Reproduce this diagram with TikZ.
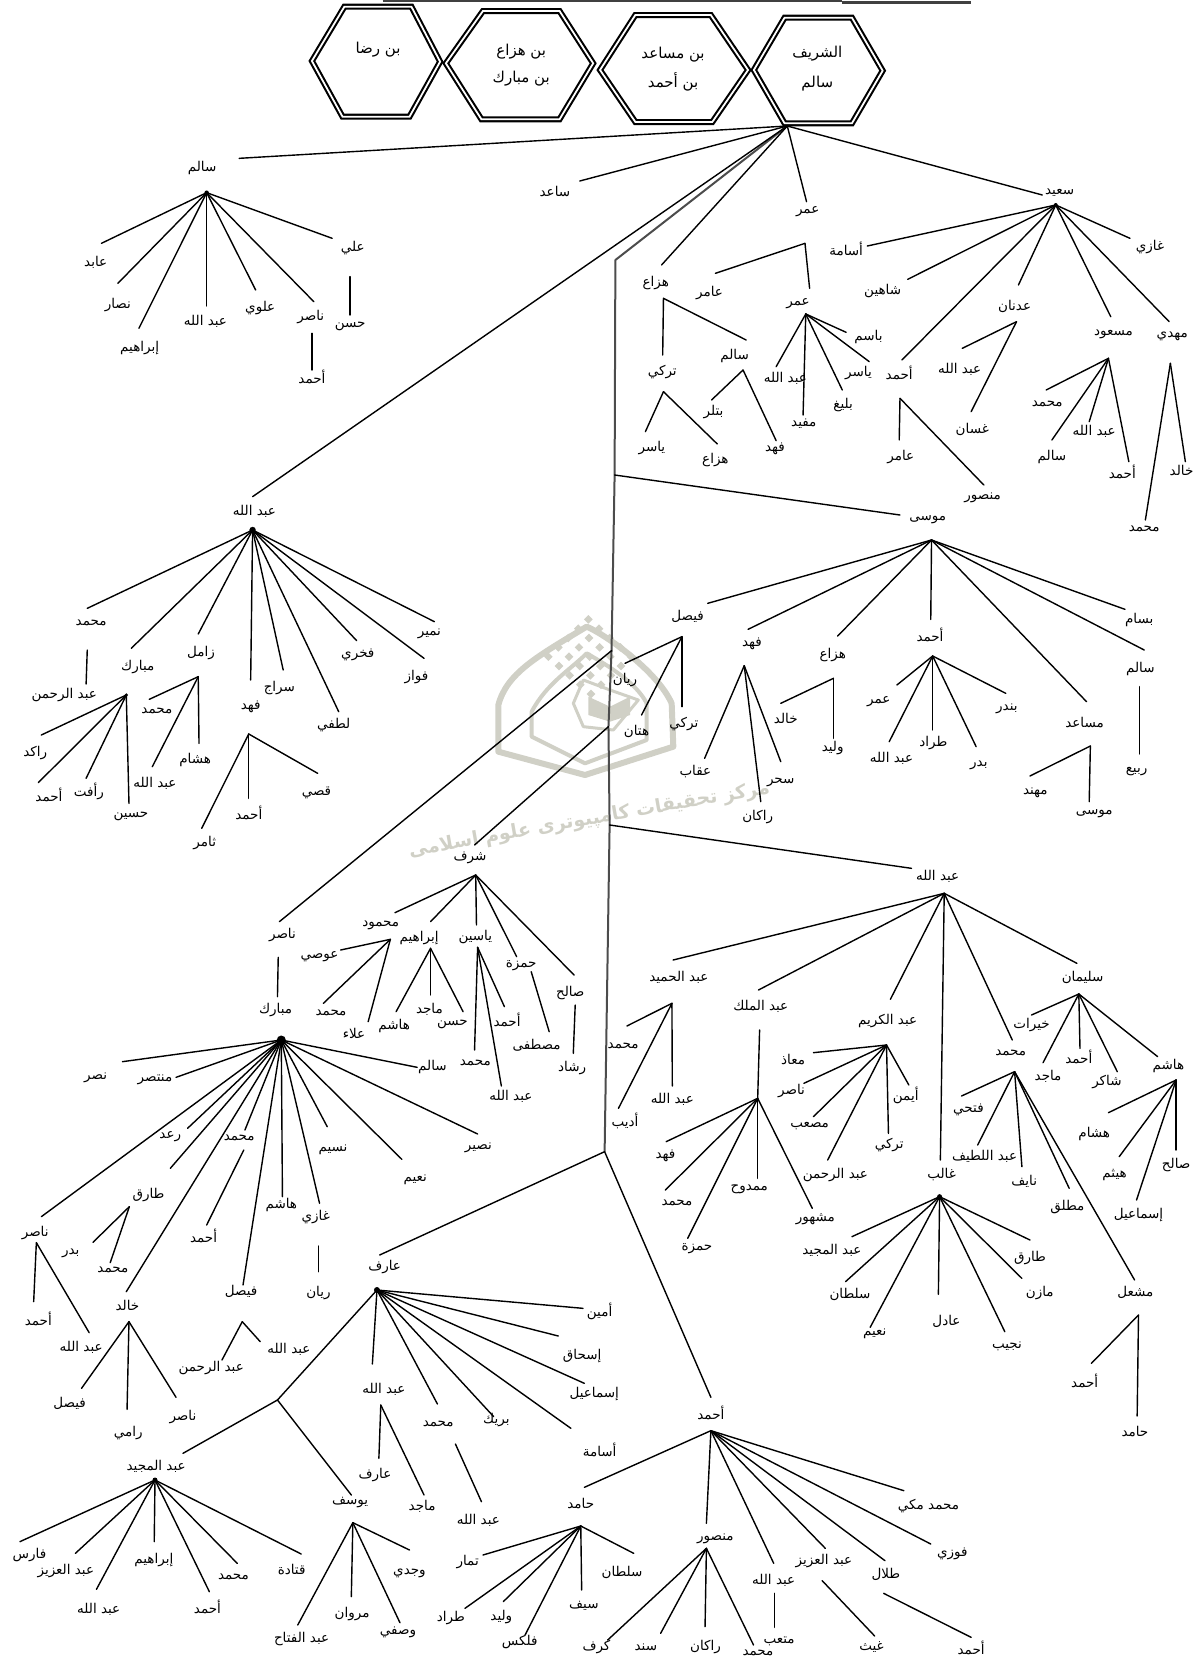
\documentclass[tikz,border=0pt]{standalone}
\usepackage{fontspec}
\TeXXeTstate=1
\newfontfamily\arfont[Script=Arabic]{DejaVu Sans}
\definecolor{wm}{RGB}{208,208,198}
\tikzset{
 lbl/.style={font=\arfont\fontsize{13.5}{14}\selectfont,inner sep=0pt,text=black},
 hexlbl/.style={font=\arfont\fontsize{15}{16}\selectfont,inner sep=0pt,text=black},
 cn/.style={draw=black,line width=1.4pt,line cap=round,line join=round},
 trunkline/.style={draw=black!70,line width=2pt,line join=round},
 hexa/.style={draw=black,line width=2.1pt,double=white,double distance=1.8pt,line join=miter},
 barline/.style={draw=black!75,line width=1.8pt},
 zone/.style n args={3}{x=#3pt,y=-0.33333pt,shift={(#1pt,-#2pt)}},
 wmline/.style={draw=wm,line width=5pt,line join=round},
}
\newcommand\Lab[4]{\node[lbl] (#1) at (#2,#3) {\beginR #4\endR};}
\newcommand\HexLab[4]{\node[hexlbl] (#1) at (#2,#3) {\beginR #4\endR};}
\newcommand\Pt[3]{\coordinate (#1) at (#2,#3);}
\newcommand\Blob[2]{\fill[black] (#1) circle (#2pt);}
\newcommand\Kid[7]{\Lab{#1}{#2}{#3}{#4}\coordinate (#1e) at (#6,#7);\draw[cn] (#5) -- (#1e);}
\newcommand\Stem[5]{\coordinate (#1a) at (#2,#3);\coordinate (#1b) at (#4,#5);\draw[cn] (#1a) -- (#1b);}
\begin{document}
\begin{tikzpicture}[x=1pt,y=1pt]
\useasboundingbox (0pt,-1660pt) rectangle (1200pt,0pt);
% watermark
\begin{scope}[zone={470}{590}{0.33333}]
 \draw[wmline,line width=6pt] (345,555) -- (85,485) -- (85,345) .. controls (110,250) and (200,200) .. (350,110) .. controls (400,130) and (560,240) .. (605,340) -- (610,470) -- cycle;
 \draw[wmline,line width=4pt] (345,520) -- (185,440) -- (185,365) .. controls (230,280) and (300,240) .. (350,190) .. controls (420,230) and (500,280) .. (530,340) -- (530,450) -- cycle;
 \draw[wmline,line width=3pt] (340,270) -- (420,300) -- (505,330) -- (430,420) -- (340,410) -- (310,340) -- cycle;
 \fill[wm] (355,320) -- (420,350) -- (480,320) -- (480,375) -- (420,395) -- (355,375) -- cycle;
 \foreach \i in {0,...,4}{\foreach \j in {0,...,4}{
   \fill[wm] ({355+\i*32-\j*30},{75+\i*28+\j*28}) -- ++(13,13) -- ++(-13,13) -- ++(-13,-13) -- cycle;}}
 \node[font=\arfont\bfseries\fontsize{19}{21}\selectfont,text=wm,rotate=10,inner sep=0pt] (wmtext) at (358,690) {\beginR مركز تحقيقات كامپيوترى علوم اسلامى\endR};
\end{scope}
% top bar and hexagons
\begin{scope}[zone={0}{0}{0.3827}]
 \coordinate (barA) at (1000,3);
 \draw[hexa] (815,183) -- (900,20) -- (1075,20) -- (1150,185) -- (1070,350) -- (895,350) -- cycle;
 \draw[hexa] (1165,190) -- (1262,33) -- (1462,33) -- (1550,190) -- (1462,358) -- (1258,358) -- cycle;
 \HexLab{h4a}{988}{150}{\beginR بن رضا\endR}
 \HexLab{h3a}{1362}{155}{\beginR بن هزاع\endR}
 \HexLab{h3b}{1362}{235}{\beginR بن مبارك\endR}
\end{scope}
\begin{scope}[zone={600}{0}{0.3846}]
 \coordinate (barM) at (630,3);
 \coordinate (barN) at (630,8);
 \coordinate (barB) at (965,8);
 \draw[barline] (barA) -- (barM);
 \draw[barline,line width=2.6pt] (barN) -- (barB);
 \draw[hexa] (0,210) -- (92,45) -- (288,45) -- (385,210) -- (292,366) -- (92,366) -- cycle;
 \draw[hexa] (400,210) -- (480,53) -- (655,53) -- (735,212) -- (655,370) -- (480,370) -- cycle;
 \HexLab{h2a}{190}{165}{\beginR بن مساعد\endR}
 \HexLab{h2b}{190}{245}{\beginR بن أحمد\endR}
 \HexLab{h1a}{565}{160}{الشريف}
 \HexLab{h1b}{565}{250}{سالم}
 \Pt{R}{487}{378}
 \Pt{T1}{40}{780}
 \Pt{MusaJ}{38}{1425}
\end{scope}
\begin{scope}[zone={600}{880}{0.3846}]
 \Pt{T2}{12}{815}
\end{scope}
\begin{scope}[zone={600}{500}{0.3846}]
 \Pt{NasirJ}{30}{452}
 \Pt{SharafJ}{22}{680}
 \Pt{AbdJ}{25}{975}
\end{scope}
\draw[trunkline] (R) -- (T1) -- (MusaJ) -- (NasirJ) -- (SharafJ) -- (AbdJ) -- (T2);
\begin{scope}[zone={500}{1240}{0.4487}]
 \Pt{HamidH}{180}{858}
\end{scope}
% region of the upper right
\begin{scope}[zone={600}{0}{0.3846}]
 \Kid{a1}{540}{635}{عمر}{R}{537}{605}
 \Kid{a2}{1195}{578}{سعيد}{R}{1150}{585}
 \Kid{a3}{145}{850}{هزاع}{R}{160}{795}
 \Pt{omarH}{533}{730}
 \Kid{b1}{285}{878}{عامر}{omarH}{300}{820}
 \Kid{b2}{515}{912}{عمر}{omarH}{545}{865}
 \Pt{omar2H}{535}{942}
 \Kid{c1}{482}{1135}{\beginR عبد الله\endR}{omar2H}{458}{1100}
 \Kid{c2}{530}{1270}{مفيد}{omar2H}{528}{1245}
 \Kid{c3}{632}{1215}{بليغ}{omar2H}{630}{1170}
 \Kid{c4}{672}{1118}{ياسر}{omar2H}{700}{1085}
 \Kid{c5}{698}{1010}{باسم}{omar2H}{640}{997}
 \Pt{hazH}{165}{895}
 \Kid{d1}{162}{1115}{تركي}{hazH}{163}{1065}
 \Kid{d2}{350}{1068}{سالم}{hazH}{380}{1020}
 \Pt{turkH}{165}{1175}
 \Kid{e1}{135}{1345}{ياسر}{turkH}{118}{1295}
 \Kid{e2}{300}{1380}{هزاع}{turkH}{305}{1332}
 \Pt{salH}{372}{1110}
 \Kid{e3}{295}{1235}{بتلر}{salH}{290}{1200}
 \Kid{e4}{455}{1348}{فهد}{salH}{458}{1322}
 \Pt{saidH}{1185}{615}
 \Blob{saidH}{2}
 \Kid{f1}{640}{748}{أسامة}{saidH}{695}{738}
 \Kid{f2}{735}{872}{شاهين}{saidH}{800}{838}
 \Kid{f3}{778}{1118}{أحمد}{saidH}{785}{1080}
 \Kid{f4}{1078}{918}{عدنان}{saidH}{1088}{855}
 \Kid{f5}{1335}{1003}{مسعود}{saidH}{1328}{950}
 \Kid{f6}{1488}{1010}{مهدي}{saidH}{1480}{965}
 \Kid{f7}{1430}{742}{غازي}{saidH}{1378}{715}
 \Pt{adnH}{1083}{965}
 \Kid{g1}{935}{1108}{\beginR عبد الله\endR}{adnH}{942}{1045}
 \Kid{g2}{968}{1288}{غسان}{adnH}{965}{1235}
 \Pt{ahmH}{780}{1195}
 \Kid{g3}{782}{1372}{عامر}{ahmH}{778}{1320}
 \Kid{g4}{995}{1495}{منصور}{ahmH}{998}{1455}
 \Pt{masH}{1322}{1075}
 \Kid{g5}{1163}{1212}{محمد}{masH}{1160}{1170}
 \Kid{g6}{1285}{1295}{\beginR عبد الله\endR}{masH}{1272}{1265}
 \Kid{g7}{1175}{1370}{سالم}{masH}{1175}{1320}
 \Kid{g8}{1358}{1415}{أحمد}{masH}{1375}{1385}
 \Pt{mahH}{1483}{1090}
 \Kid{g9}{1512}{1412}{خالد}{mahH}{1522}{1385}
\end{scope}
% upper left
\begin{scope}[zone={0}{0}{0.3827}]
 \Kid{s0}{528}{505}{سالم}{R}{625}{475}
 \Kid{s00}{1450}{575}{ساعد}{R}{1515}{543}
 \Pt{sH}{540}{578}
 \Blob{sH}{2.2}
 \Kid{s1}{250}{787}{عابد}{sH}{265}{730}
 \Kid{s2}{308}{915}{نصار}{sH}{308}{850}
 \Kid{s3}{365}{1043}{إبراهيم}{sH}{363}{985}
 \Kid{s4}{537}{965}{\beginR عبد الله\endR}{sH}{540}{918}
 \Kid{s5}{680}{925}{علوي}{sH}{668}{870}
 \Kid{s6}{812}{950}{ناصر}{sH}{820}{905}
 \Kid{s7}{922}{745}{علي}{sH}{868}{715}
 \Stem{st1}{915}{830}{915}{945}
 \Lab{s8}{915}{980}{حسن}
 \Stem{st2}{815}{1000}{815}{1110}
 \Lab{s9}{815}{1130}{أحمد}
\end{scope}
\begin{scope}[zone={0}{480}{0.3827}]
 \Kid{m0}{665}{95}{\beginR عبد الله\endR}{R}{660}{50}
 \Pt{mH}{660}{150}
 \Blob{mH}{3.2}
 \Kid{m1}{238}{430}{محمد}{mH}{228}{385}
 \Kid{m2}{360}{560}{مبارك}{mH}{343}{505}
 \Kid{m3}{525}{518}{زامل}{mH}{518}{462}
 \Kid{m4}{655}{680}{فهد}{mH}{655}{600}
 \Kid{m5}{730}{625}{سراج}{mH}{740}{570}
 \Kid{m6}{872}{735}{لطفي}{mH}{885}{695}
 \Kid{m7}{935}{525}{فخري}{mH}{932}{482}
 \Kid{m8}{1088}{590}{فواز}{mH}{1108}{535}
 \Kid{m9}{1122}{462}{نمير}{mH}{1135}{425}
 \Stem{st3}{228}{510}{225}{612}
 \Lab{n1}{168}{645}{\beginR عبد الرحمن\endR}
 \Pt{mbH}{330}{645}
 \Blob{mbH}{1.8}
 \Kid{n2}{92}{820}{راكد}{mbH}{108}{765}
 \Kid{n3}{128}{945}{أحمد}{mbH}{100}{908}
 \Kid{n4}{232}{935}{رأفت}{mbH}{225}{895}
 \Kid{n5}{342}{1010}{حسين}{mbH}{337}{970}
 \Pt{zmH}{518}{590}
 \Kid{n6}{410}{692}{محمد}{zmH}{390}{658}
 \Kid{n7}{405}{910}{\beginR عبد الله\endR}{zmH}{398}{860}
 \Kid{n8}{510}{840}{هشام}{zmH}{520}{790}
 \Pt{fhH}{650}{762}
 \Kid{n9}{535}{1090}{ثامر}{fhH}{527}{1045}
 \Kid{n10}{650}{1000}{أحمد}{fhH}{650}{955}
 \Kid{n11}{827}{940}{قصي}{fhH}{830}{880}
 \coordinate (shrfE) at (1240,1095);
\end{scope}
% middle right
\begin{scope}[zone={600}{500}{0.3846}]
 \Kid{g10}{1415}{88}{محمد}{mahH}{1418}{60}
 \Kid{k0}{852}{58}{موسى}{MusaJ}{780}{45}
 \Pt{kH}{862}{120}
 \Kid{k1}{228}{350}{فيصل}{kH}{280}{310}
 \Kid{k2}{395}{433}{فهد}{kH}{385}{388}
 \Kid{k3}{605}{465}{هزاع}{kH}{618}{408}
 \Kid{k4}{858}{405}{أحمد}{kH}{860}{358}
 \Kid{k5}{1260}{668}{مساعد}{kH}{1265}{605}
 \Kid{k6}{1405}{508}{سالم}{kH}{1415}{450}
 \Kid{k7}{1402}{360}{بسام}{kH}{1365}{328}
 \Pt{fsH}{213}{410}
 \Kid{l1}{65}{540}{ريان}{fsH}{65}{490}
 \Kid{l2}{95}{695}{هتان}{fsH}{108}{645}
 \Kid{l3}{218}{672}{تركي}{fsH}{213}{620}
 \Pt{fdH}{375}{497}
 \Kid{l4}{248}{815}{عقاب}{fdH}{272}{775}
 \Kid{l5}{410}{950}{راكان}{fdH}{418}{905}
 \Kid{l6}{470}{848}{سحر}{fdH}{470}{785}
 \Pt{hzH}{607}{535}
 \Kid{l7}{483}{655}{خالد}{hzH}{470}{610}
 \Kid{l8}{605}{745}{وليد}{hzH}{607}{715}
 \Pt{amH}{865}{468}
 \Kid{l9}{725}{605}{عمر}{amH}{772}{555}
 \Kid{l10}{758}{775}{\beginR عبد الله\endR}{amH}{752}{725}
 \Kid{l11}{867}{730}{طراد}{amH}{865}{690}
 \Kid{l12}{985}{795}{بدر}{amH}{978}{740}
 \Kid{l13}{1058}{628}{بندر}{amH}{1055}{580}
 \Pt{msH}{1275}{738}
 \Kid{l14}{1132}{878}{مهند}{msH}{1118}{828}
 \Kid{l15}{1285}{942}{موسى}{msH}{1272}{905}
 \Stem{st4}{1402}{560}{1402}{762}
 \Lab{l16}{1395}{815}{ربيع}
 \Kid{o0}{878}{1128}{\beginR عبد الله\endR}{AbdJ}{810}{1105}
\end{scope}
% middle left
\begin{scope}[zone={0}{840}{0.3827}]
 \Lab{p0}{1228}{55}{شرف}
 \draw[cn] (SharafJ) -- (shrfE);
 \Pt{shH}{1243}{105}
 \Kid{p1}{995}{255}{محمود}{shH}{1032}{218}
 \Kid{p2}{1095}{295}{إبراهيم}{shH}{1125}{245}
 \Kid{p3}{1242}{290}{ياسين}{shH}{1245}{255}
 \Kid{p4}{1362}{378}{حمزة}{shH}{1350}{350}
 \Kid{p5}{1490}{460}{صالح}{shH}{1500}{405}
 \Stem{st5}{1388}{395}{1435}{575}
 \Lab{p6}{1402}{617}{مصطفى}
 \Stem{st6}{1503}{495}{1498}{640}
 \Lab{p7}{1495}{685}{رشاد}
 \Pt{mdH}{1020}{298}
 \Kid{q1}{835}{350}{عوصي}{mdH}{890}{330}
 \Kid{q2}{865}{518}{محمد}{mdH}{845}{490}
 \Kid{q3}{925}{580}{علاء}{mdH}{962}{545}
 \Pt{ibH}{1125}{325}
 \Kid{q4}{1030}{558}{هاشم}{ibH}{1035}{515}
 \Kid{q5}{1122}{508}{ماجد}{ibH}{1125}{465}
 \Kid{q6}{1182}{552}{حسن}{ibH}{1210}{515}
 \Pt{yaH}{1248}{322}
 \Kid{q7}{1242}{668}{محمد}{yaH}{1240}{630}
 \Kid{q8}{1335}{770}{\beginR عبد الله\endR}{yaH}{1310}{738}
 \Kid{q9}{1325}{540}{أحمد}{yaH}{1318}{500}
 \Kid{r0}{738}{285}{ناصر}{NasirJ}{730}{245}
 \Stem{st7}{727}{352}{725}{470}
 \Lab{r1}{720}{510}{مبارك}
 \Pt{mkH}{735}{600}
 \Blob{mkH}{4.5}
 \Kid{t1}{1130}{680}{سالم}{mkH}{1090}{682}
 \Kid{t2}{250}{715}{نصر}{mkH}{320}{665}
 \Kid{t3}{405}{720}{منتصر}{mkH}{460}{712}
 \Kid{t4}{445}{890}{رعد}{mkH}{490}{865}
 \Kid{t5}{92}{1180}{ناصر}{mkH}{108}{1130}
 \Kid{t6}{388}{1065}{طارق}{mkH}{445}{985}
 \Kid{t7}{625}{893}{محمد}{mkH}{640}{870}
 \Kid{t8}{735}{1095}{هاشم}{mkH}{738}{1070}
 \Kid{t9}{825}{1130}{غازي}{mkH}{835}{1090}
 \Kid{t10}{870}{928}{نسيم}{mkH}{855}{860}
 \Kid{t11}{1085}{1020}{نعيم}{mkH}{1050}{958}
 \Kid{t12}{1250}{925}{نصير}{mkH}{1248}{882}
 \Stem{st8}{637}{930}{540}{1155}
 \Lab{t13}{532}{1188}{أحمد}
 \Pt{trH}{338}{1100}
 \Kid{t14}{185}{1240}{بدر}{trH}{243}{1207}
 \Pt{nsH}{95}{1208}
\end{scope}
% right centre
\begin{scope}[zone={600}{880}{0.3846}]
 \Pt{oH}{895}{40}
 \Kid{o1}{205}{293}{\beginR عبد الحميد\endR}{oH}{190}{240}
 \Kid{o2}{418}{378}{\beginR عبد الملك\endR}{oH}{412}{330}
 \Kid{o3}{748}{422}{\beginR عبد الكريم\endR}{oH}{755}{358}
 \Kid{o4}{888}{885}{غالب}{oH}{885}{840}
 \Kid{o5}{1068}{518}{محمد}{oH}{1072}{480}
 \Kid{o6}{1255}{293}{سليمان}{oH}{1240}{250}
 \Pt{ohH}{187}{370}
 \Kid{u1}{60}{498}{محمد}{ohH}{70}{438}
 \Kid{u2}{65}{722}{أديب}{ohH}{48}{685}
 \Kid{u3}{188}{658}{\beginR عبد الله\endR}{ohH}{188}{618}
 \Pt{omH}{410}{655}
 \Stem{st9}{415}{450}{410}{655}
 \Kid{u4}{170}{828}{فهد}{omH}{172}{785}
 \Kid{u5}{200}{968}{محمد}{omH}{170}{930}
 \Kid{u6}{252}{1105}{حمزة}{omH}{228}{1075}
 \Kid{u7}{388}{928}{ممدوح}{omH}{410}{895}
 \Kid{u8}{560}{1018}{مشهور}{omH}{552}{985}
 \Pt{okH}{745}{495}
 \Kid{v1}{502}{540}{معاذ}{okH}{555}{518}
 \Kid{v2}{498}{632}{ناصر}{okH}{530}{610}
 \Kid{v3}{545}{738}{مصعب}{okH}{555}{710}
 \Kid{v4}{612}{885}{\beginR عبد الرحمن\endR}{okH}{592}{840}
 \Kid{v5}{752}{795}{تركي}{okH}{750}{760}
 \Kid{v6}{795}{645}{أيمن}{okH}{803}{615}
 \Pt{mmH}{1078}{575}
 \Kid{w1}{958}{690}{فتحي}{mmH}{940}{648}
 \Kid{w2}{1000}{830}{\beginR عبد اللطيف\endR}{mmH}{982}{795}
 \Kid{w3}{1103}{905}{نايف}{mmH}{1097}{860}
 \Kid{w4}{1215}{980}{مطلق}{mmH}{1220}{925}
 \Kid{w5}{1392}{1238}{مشعل}{mmH}{1390}{1200}
 \Pt{slH}{1245}{342}
 \Kid{x1}{1122}{435}{خيرات}{slH}{1122}{405}
 \Kid{x2}{1165}{590}{ماجد}{slH}{1152}{548}
 \Kid{x3}{1245}{532}{أحمد}{slH}{1248}{505}
 \Kid{x4}{1318}{605}{شاكر}{slH}{1345}{575}
 \Kid{x5}{1478}{558}{هاشم}{slH}{1450}{530}
 \Pt{hsH}{1498}{600}
 \Kid{y1}{1285}{762}{هشام}{hsH}{1322}{698}
 \Kid{y2}{1338}{885}{هيثم}{hsH}{1350}{830}
 \Kid{y3}{1400}{1005}{إسماعيل}{hsH}{1395}{960}
 \Kid{y4}{1498}{855}{صالح}{hsH}{1498}{810}
 \Pt{ghH}{883}{950}
 \Blob{ghH}{2.5}
 \Kid{z1}{603}{1112}{\beginR عبد المجيد\endR}{ghH}{655}{1070}
 \Kid{z2}{1118}{1135}{طارق}{ghH}{1118}{1080}
\end{scope}
% bottom left
\begin{scope}[zone={0}{1240}{0.3827}]
 \Kid{aa1}{295}{90}{محمد}{trH}{288}{68}
 \Kid{aa2}{100}{238}{أحمد}{nsH}{88}{185}
 \Kid{aa3}{212}{322}{\beginR عبد الله\endR}{nsH}{233}{278}
 \Kid{aa4}{333}{195}{خالد}{mkH}{330}{155}
 \Kid{aa5}{630}{155}{فيصل}{mkH}{635}{135}
 \Stem{st10}{832}{18}{832}{95}
 \Lab{aa6}{832}{160}{ريان}
 \Pt{khH}{337}{245}
 \Kid{ab1}{182}{490}{فيصل}{khH}{213}{445}
 \Kid{ab2}{335}{578}{رامي}{khH}{332}{508}
 \Kid{ab3}{478}{530}{ناصر}{khH}{460}{472}
 \Pt{fyH}{633}{245}
 \Kid{ac1}{552}{385}{\beginR عبد الرحمن\endR}{fyH}{580}{360}
 \Kid{ac2}{755}{328}{\beginR عبد الله\endR}{fyH}{680}{305}
 \Kid{ad0}{1005}{82}{عارف}{T2}{992}{45}
 \Pt{arH}{985}{150}
 \Blob{arH}{3}
 \Pt{brC}{725}{480}
 \draw[cn] (arH) -- (brC);
 \Kid{ad1}{1297}{540}{بريك}{arH}{1290}{530}
 \Kid{ad2}{1145}{553}{محمد}{arH}{1143}{492}
 \Kid{ad3}{1003}{448}{\beginR عبد الله\endR}{arH}{973}{372}
 \Kid{ad4}{408}{678}{\beginR عبد المجيد\endR}{brC}{478}{640}
 \Kid{ad5}{915}{788}{يوسف}{brC}{918}{765}
 \Pt{a3H}{995}{495}
 \Kid{ae1}{980}{705}{عارف}{a3H}{990}{655}
 \Kid{ae2}{1103}{800}{ماجد}{a3H}{1108}{765}
 \Stem{st11}{1190}{612}{1258}{785}
 \Lab{ae3}{1250}{840}{\beginR عبد الله\endR}
 \Pt{amjH}{405}{720}
 \Blob{amjH}{2.5}
 \Kid{af1}{77}{945}{فارس}{amjH}{52}{905}
 \Kid{af2}{172}{992}{\beginR عبد العزيز\endR}{amjH}{197}{940}
 \Kid{af3}{258}{1108}{\beginR عبد الله\endR}{amjH}{252}{1048}
 \Kid{af4}{402}{960}{إبراهيم}{amjH}{403}{905}
 \Kid{af5}{542}{1102}{أحمد}{amjH}{547}{1055}
 \Kid{af6}{610}{1010}{محمد}{amjH}{620}{970}
 \Kid{af7}{762}{990}{قتادة}{amjH}{787}{942}
 \Pt{ysH}{922}{848}
 \Kid{ag1}{788}{1198}{\beginR عبد الفتاح\endR}{ysH}{778}{1155}
 \Kid{ag2}{920}{1122}{مروان}{ysH}{918}{1070}
 \Kid{ag3}{1040}{1178}{وصفي}{ysH}{1045}{1148}
 \Kid{ag4}{1070}{1000}{وجدي}{ysH}{1070}{930}
 \Kid{ah1}{1222}{965}{تمار}{HamidH}{1262}{945}
 \Kid{ah2}{1178}{1135}{طراد}{HamidH}{1215}{1105}
 \Kid{ah3}{1310}{1130}{وليد}{HamidH}{1315}{1085}
 \Kid{ah4}{1358}{1205}{فلكس}{HamidH}{1372}{1185}
\end{scope}
% bottom right
\begin{scope}[zone={500}{1240}{0.4487}]
 \Kid{z3}{780}{163}{سلطان}{ghH}{770}{125}
 \Kid{z4}{835}{282}{نعيم}{ghH}{825}{262}
 \Kid{z5}{995}{243}{عادل}{ghH}{977}{163}
 \Kid{z6}{1130}{318}{نجيب}{ghH}{1125}{275}
 \Kid{z7}{1203}{160}{مازن}{ghH}{1163}{115}
 \Pt{msH2}{1423}{225}
 \Kid{z8}{1303}{423}{أحمد}{msH2}{1318}{370}
 \Kid{z9}{1415}{575}{حامد}{msH2}{1420}{528}
 \Kid{ai1}{222}{215}{أمين}{arH}{185}{205}
 \Kid{ai2}{183}{348}{إسحاق}{arH}{130}{288}
 \Kid{ai3}{210}{462}{إسماعيل}{arH}{188}{430}
 \Kid{ai4}{222}{630}{أسامة}{arH}{158}{565}
 \Kid{aj0}{470}{520}{أحمد}{T2}{470}{472}
 \Pt{ajH}{470}{572}
 \Kid{aj1}{180}{790}{حامد}{ajH}{188}{742}
 \Kid{aj2}{480}{898}{منصور}{ajH}{460}{850}
 \Kid{aj3}{610}{1022}{\beginR عبد الله\endR}{ajH}{610}{970}
 \Kid{aj4}{722}{962}{\beginR عبد العزيز\endR}{ajH}{725}{925}
 \Kid{aj5}{860}{1002}{طلال}{ajH}{858}{962}
 \Kid{aj6}{1008}{942}{فوزي}{ajH}{960}{912}
 \Kid{aj7}{955}{798}{\beginR محمد مكي\endR}{ajH}{900}{752}
 \Kid{ak1}{272}{998}{سلطان}{HamidH}{298}{940}
 \Kid{ak2}{187}{1098}{سيف}{HamidH}{182}{1050}
 \Pt{mnH}{460}{925}
 \Kid{ak3}{215}{1222}{كرف}{mnH}{240}{1200}
 \Kid{ak4}{325}{1222}{سند}{mnH}{358}{1180}
 \Kid{ak5}{458}{1222}{راكان}{mnH}{457}{1160}
 \Kid{ak6}{575}{1240}{محمد}{mnH}{565}{1215}
 \Stem{st12}{612}{1060}{612}{1162}
 \Lab{ak7}{622}{1205}{متعب}
 \Stem{st13}{718}{1022}{835}{1188}
 \Lab{ak8}{828}{1222}{غيث}
 \Stem{st14}{855}{1060}{1050}{1192}
 \Lab{ak9}{1050}{1225}{أحمد}
\end{scope}
\end{tikzpicture}
\end{document}
